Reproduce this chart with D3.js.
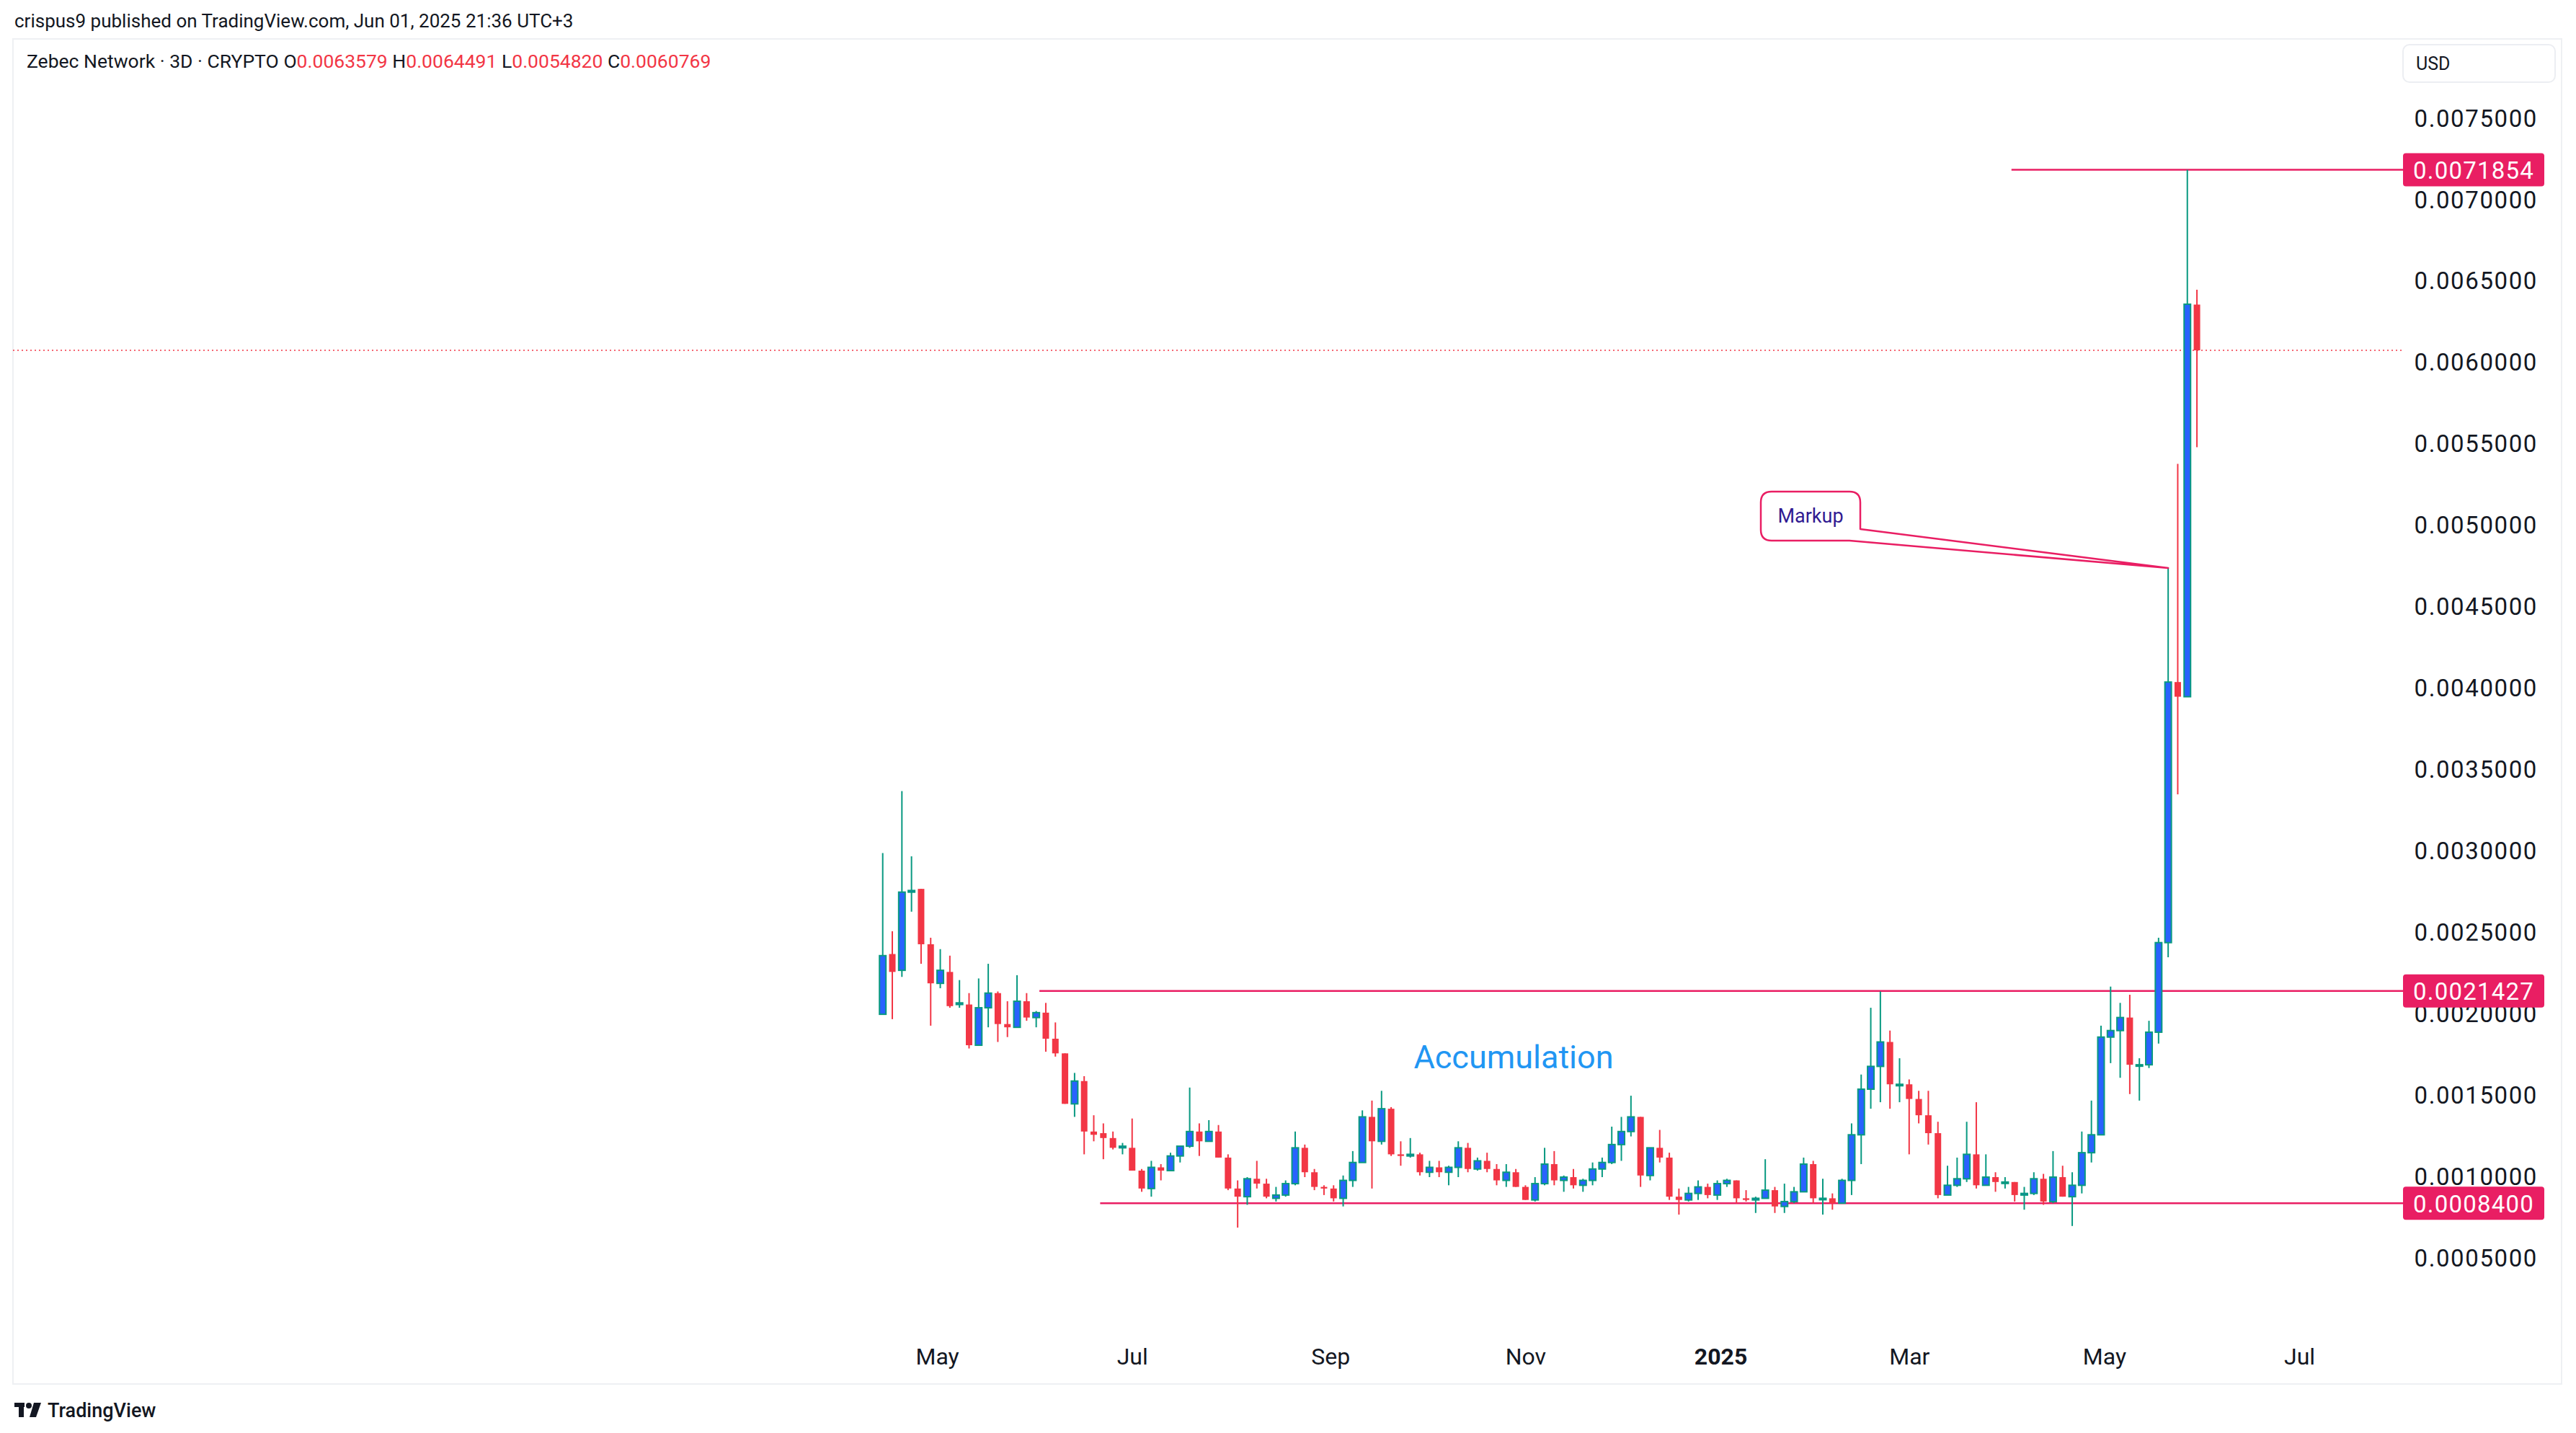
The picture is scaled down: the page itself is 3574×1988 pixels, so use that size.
<!DOCTYPE html>
<html>
<head>
<meta charset="utf-8">
<script src="https://cdn.jsdelivr.net/npm/d3@7"></script>
<style>
  body { margin: 0; background: #fff; }
  svg text { font-family: Roboto, "Noto Sans", sans-serif; }
</style>
</head>
<body>
<div id="chart"></div>
<script>
// 3D candles, ZBCN/USD, oldest first (last candle closes 2025-05-31)
const opens = [.00200,.00237,.00227,.00275,.00277,.00243,.00219,.00226,.00206,.00206,.00181,.00204,.00213,.00194,.00192,.00208,.00198,.00201,.00185,.00176,
  .00145,.00159,.00128,.00127,.00124,.00118,.00118,.00104,.00093,.00106,.00104,.00113,.00119,.00128,.00122,.00128,.00112,.00093,.00088,.00099,
  .00096,.00087,.00089,.00096,.00118,.00103,.00094,.00093,.00087,.00098,.00109,.00137,.00122,.00142,.00114,.00113,.00114,.00103,.00106,.00103,
  .00106,.00118,.00105,.00110,.00105,.00098,.00103,.00094,.00086,.00096,.00108,.00098,.00100,.00095,.00098,.00105,.00109,.00120,.00128,.00137,
  .00101,.00118,.00112,.00088,.00086,.00090,.00094,.00089,.00096,.00098,.00087,.00086,.00087,.00092,.00082,.00085,.00091,.00108,.00087,.00087,
  .00084,.00098,.00126,.00154,.00168,.00183,.00157,.00157,.00148,.00138,.00127,.00089,.00095,.00099,.00114,.00095,.00100,.00097,.00097,.00089,
  .00090,.00099,.00085,.00100,.00088,.00095,.00115,.00126,.00186,.00190,.00198,.00169,.00169,.00189,.00244,.00404,.00395,.0063579];
const highs = [.00299,.00251,.00337,.00297,.00277,.00247,.00240,.00236,.00221,.00213,.00222,.00231,.00214,.00208,.00224,.00213,.00202,.00207,.00195,.00176,
  .00164,.00162,.00138,.00133,.00128,.00121,.00136,.00105,.00110,.00108,.00115,.00119,.00155,.00133,.00135,.00132,.00114,.00098,.00100,.00110,
  .00099,.00094,.00098,.00128,.00120,.00105,.00095,.00095,.00101,.00116,.00141,.00147,.00153,.00143,.00122,.00124,.00115,.00110,.00110,.00107,
  .00122,.00121,.00112,.00115,.00108,.00108,.00105,.00095,.00100,.00118,.00116,.00101,.00105,.00099,.00109,.00112,.00131,.00137,.00150,.00137,
  .00118,.00129,.00115,.00093,.00094,.00098,.00096,.00098,.00099,.00098,.00092,.00088,.00111,.00094,.00096,.00094,.00112,.00110,.00099,.00090,
  .00099,.00133,.00163,.00204,.00214,.00190,.00173,.00160,.00153,.00153,.00134,.00107,.00112,.00134,.00146,.00114,.00103,.00100,.00097,.00094,
  .00103,.00102,.00116,.00107,.00103,.00128,.00147,.00193,.00217,.00207,.00212,.00173,.00196,.00247,.00474,.00538,.0071854,.0064491];
const lows = [.00200,.00197,.00223,.00263,.00231,.00193,.00216,.00204,.00204,.00179,.00181,.00192,.00183,.00186,.00192,.00196,.00192,.00177,.00174,.00145,
  .00137,.00114,.00122,.00111,.00117,.00114,.00104,.00091,.00088,.00098,.00104,.00109,.00118,.00113,.00122,.00112,.00092,.00069,.00083,.00093,
  .00087,.00085,.00088,.00095,.00100,.00092,.00089,.00085,.00082,.00094,.00109,.00093,.00120,.00113,.00107,.00112,.00101,.00100,.00100,.00095,
  .00100,.00103,.00104,.00103,.00095,.00094,.00094,.00086,.00085,.00095,.00095,.00091,.00093,.00091,.00095,.00100,.00108,.00110,.00125,.00094,
  .00098,.00109,.00086,.00077,.00085,.00086,.00087,.00086,.00094,.00084,.00085,.00078,.00087,.00078,.00078,.00084,.00091,.00084,.00077,.00080,
  .00084,.00089,.00108,.00142,.00146,.00142,.00146,.00114,.00133,.00120,.00087,.00089,.00094,.00097,.00093,.00095,.00091,.00093,.00085,.00080,
  .00089,.00083,.00084,.00088,.00070,.00090,.00109,.00126,.00170,.00161,.00151,.00147,.00167,.00182,.00235,.00335,.00395,.0054820];
const closes = [.00236,.00226,.00275,.00276,.00243,.00219,.00227,.00205,.00207,.00181,.00204,.00213,.00194,.00192,.00208,.00198,.00201,.00185,.00176,.00145,
  .00159,.00128,.00126,.00124,.00118,.00119,.00104,.00093,.00106,.00104,.00113,.00119,.00128,.00122,.00128,.00112,.00093,.00088,.00099,.00096,
  .00088,.00089,.00096,.00118,.00103,.00094,.00093,.00087,.00098,.00109,.00137,.00122,.00142,.00114,.00113,.00114,.00103,.00106,.00103,.00106,
  .00118,.00105,.00110,.00105,.00098,.00103,.00094,.00086,.00096,.00108,.00098,.00100,.00095,.00098,.00105,.00109,.00120,.00128,.00137,.00101,
  .00118,.00112,.00088,.00086,.00090,.00094,.00089,.00096,.00098,.00087,.00086,.00087,.00092,.00082,.00085,.00091,.00108,.00087,.00087,.00084,
  .00098,.00126,.00154,.00168,.00183,.00157,.00157,.00148,.00138,.00127,.00089,.00095,.00099,.00114,.00095,.00100,.00097,.00097,.00089,.00090,
  .00099,.00085,.00100,.00088,.00095,.00115,.00126,.00186,.00190,.00198,.00169,.00169,.00189,.00244,.00404,.00395,.00636,.0060769];

const lastDate = new Date(Date.UTC(2025, 4, 30));
const dates = opens.map((_, i) => d3.utcDay.offset(lastDate, -3 * (opens.length - 1 - i)));

const yTicks = [0.0005,0.001,0.0015,0.002,0.0025,0.003,0.0035,0.004,0.0045,0.005,0.0055,0.006,0.0065,0.007,0.0075];
const xTicks = d3.utcMonth.every(2).range(new Date(Date.UTC(2024, 4, 1)), new Date(Date.UTC(2025, 7, 1)));
const levelLines = [
  { price: 0.0071854, from: new Date(Date.UTC(2025, 3, 2)) },
  { price: 0.0021427, from: new Date(Date.UTC(2024, 5, 2)) },
  { price: 0.00084,   from: new Date(Date.UTC(2024, 5, 21)) }
];
const lastPrice = 0.0060769;

const W = 3574, H = 1988;
const plot = { left: 18, right: 3332, top: 55, bottom: 1855 };
const PINK = '#e91e63', RED = '#f23645', BLUE = '#2962ff', GREEN = '#089981', INK = '#131722';

const svg = d3.select('#chart').append('svg')
  .attr('width', W).attr('height', H)
  .style('display', 'block');

// frame
svg.append('rect').attr('x', 18).attr('y', 54).attr('width', 3536).attr('height', 1866)
  .attr('fill', '#fff').attr('stroke', '#eef0f3').attr('stroke-width', 2);

const x = d3.scaleUtc()
  .domain([new Date(Date.UTC(2023, 6, 17)), new Date(Date.UTC(2025, 7, 2))])
  .range([plot.left, plot.right]);
const y = d3.scaleLinear()
  .domain([0.0075, 0.0005])
  .range([164.5, 1746]);

// header
svg.append('text').attr('x', 20).attr('y', 38).attr('font-size', 26).attr('fill', INK)
  .text('crispus9 published on TradingView.com, Jun 01, 2025 21:36 UTC+3');

const legend = svg.append('text').attr('x', 37).attr('y', 94).attr('font-size', 26.5).attr('fill', INK);
legend.append('tspan').text('Zebec Network · 3D · CRYPTO  ');
[['O', opens], ['H', highs], ['L', lows], ['C', closes]].forEach(([k, arr]) => {
  legend.append('tspan').attr('fill', INK).text(k);
  legend.append('tspan').attr('fill', RED).text(arr[arr.length - 1].toFixed(7) + '  ');
});

// USD box
svg.append('rect').attr('x', 3334).attr('y', 62).attr('width', 211).attr('height', 52).attr('rx', 9)
  .attr('fill', '#fff').attr('stroke', '#eceef2').attr('stroke-width', 2);
svg.append('text').attr('x', 3352).attr('y', 97).attr('font-size', 25).attr('fill', INK).text('USD');

// y axis
const yAxis = svg.append('g').attr('transform', `translate(${3521},0)`)
  .call(d3.axisRight(y).tickValues(yTicks).tickFormat(d3.format('.7f')).tickSize(0).tickPadding(0));
yAxis.select('.domain').remove();
yAxis.selectAll('text').attr('x', 0).attr('text-anchor', 'end').attr('font-size', 33)
  .attr('letter-spacing', 1.6).attr('fill', INK);

// x axis
const xAxis = svg.append('g').attr('transform', `translate(0,${1882})`)
  .call(d3.axisBottom(x).tickValues(xTicks).tickSize(0).tickPadding(0)
    .tickFormat(d => d.getUTCMonth() === 0 ? d3.utcFormat('%Y')(d) : d3.utcFormat('%b')(d)));
xAxis.select('.domain').remove();
xAxis.selectAll('text').attr('font-size', 32).attr('fill', INK).attr('dy', '0.35em')
  .attr('font-weight', d => d.getUTCMonth() === 0 ? 'bold' : 'normal');

// last price dotted line
svg.append('line').attr('x1', plot.left).attr('x2', plot.right)
  .attr('y1', y(lastPrice)).attr('y2', y(lastPrice))
  .attr('stroke', RED).attr('stroke-width', 1.5).attr('stroke-dasharray', '2,4');

// level lines
svg.selectAll('.lvl').data(levelLines).join('line').attr('class', 'lvl')
  .attr('x1', d => x(d.from)).attr('x2', plot.right + 4)
  .attr('y1', d => y(d.price)).attr('y2', d => y(d.price))
  .attr('stroke', PINK).attr('stroke-width', 2.5);

// candles
const candles = dates.map((d, i) => ({ d, o: opens[i], h: highs[i], l: lows[i], c: closes[i] }));
const bw = 9;
const g = svg.append('g');
g.selectAll('.wick').data(candles).join('line')
  .attr('x1', d => x(d.d)).attr('x2', d => x(d.d))
  .attr('y1', d => y(d.h)).attr('y2', d => y(d.l))
  .attr('stroke', d => d.c >= d.o ? GREEN : RED).attr('stroke-width', 2);
g.selectAll('.body').data(candles).join('rect')
  .attr('x', d => x(d.d) - bw / 2)
  .attr('y', d => y(Math.max(d.o, d.c)))
  .attr('width', bw)
  .attr('height', d => Math.max(2, Math.abs(y(d.o) - y(d.c))))
  .attr('fill', d => d.c >= d.o ? BLUE : RED)
  .attr('stroke', d => d.c >= d.o ? GREEN : 'none').attr('stroke-width', 2);

// price labels on the axis
const tags = svg.selectAll('.tag').data(levelLines).join('g')
  .attr('transform', d => `translate(3334,${y(d.price) - 23})`);
tags.append('rect').attr('width', 196).attr('height', 46).attr('rx', 4).attr('fill', PINK);
tags.append('text').attr('x', 98).attr('y', 24).attr('dy', '0.35em').attr('text-anchor', 'middle')
  .attr('font-size', 33).attr('letter-spacing', 1.2).attr('fill', '#fff').text(d => d.price.toFixed(7));

// annotations
svg.append('text').attr('x', 2100).attr('y', 1482).attr('text-anchor', 'middle')
  .attr('font-size', 45).attr('fill', '#2196f3').text('Accumulation');

const mi = 134;
const px = x(dates[mi]), py = y(highs[mi]);
const bx0 = 2443, by0 = 682, bx1 = 2581, by1 = 750, r = 15;
svg.append('path')
  .attr('d', `M${bx0 + r},${by0} H${bx1 - r} Q${bx1},${by0} ${bx1},${by0 + r} V${by1 - 16} L${px},${py} L${bx1 - 15},${by1} H${bx0 + r} Q${bx0},${by1} ${bx0},${by1 - r} V${by0 + r} Q${bx0},${by0} ${bx0 + r},${by0} Z`)
  .attr('fill', '#fff').attr('stroke', PINK).attr('stroke-width', 2.5).attr('stroke-linejoin', 'round');
svg.append('text').attr('x', (bx0 + bx1) / 2).attr('y', (by0 + by1) / 2).attr('dy', '0.35em')
  .attr('text-anchor', 'middle').attr('font-size', 27).attr('fill', '#311b92').text('Markup');

// footer logo
const logo = svg.append('g').attr('transform', 'translate(20,1946)');
logo.append('rect').attr('x', 0).attr('y', 0).attr('width', 14).attr('height', 6).attr('fill', INK);
logo.append('rect').attr('x', 6).attr('y', 0).attr('width', 7).attr('height', 20).attr('fill', INK);
logo.append('circle').attr('cx', 20).attr('cy', 4).attr('r', 4).attr('fill', INK);
logo.append('path').attr('d', 'M27,0 H37 L30,20 H21 Z').attr('fill', INK);
svg.append('text').attr('x', 66).attr('y', 1966).attr('font-size', 27).attr('font-weight', 500)
  .attr('fill', INK).text('TradingView');
</script>
</body>
</html>
